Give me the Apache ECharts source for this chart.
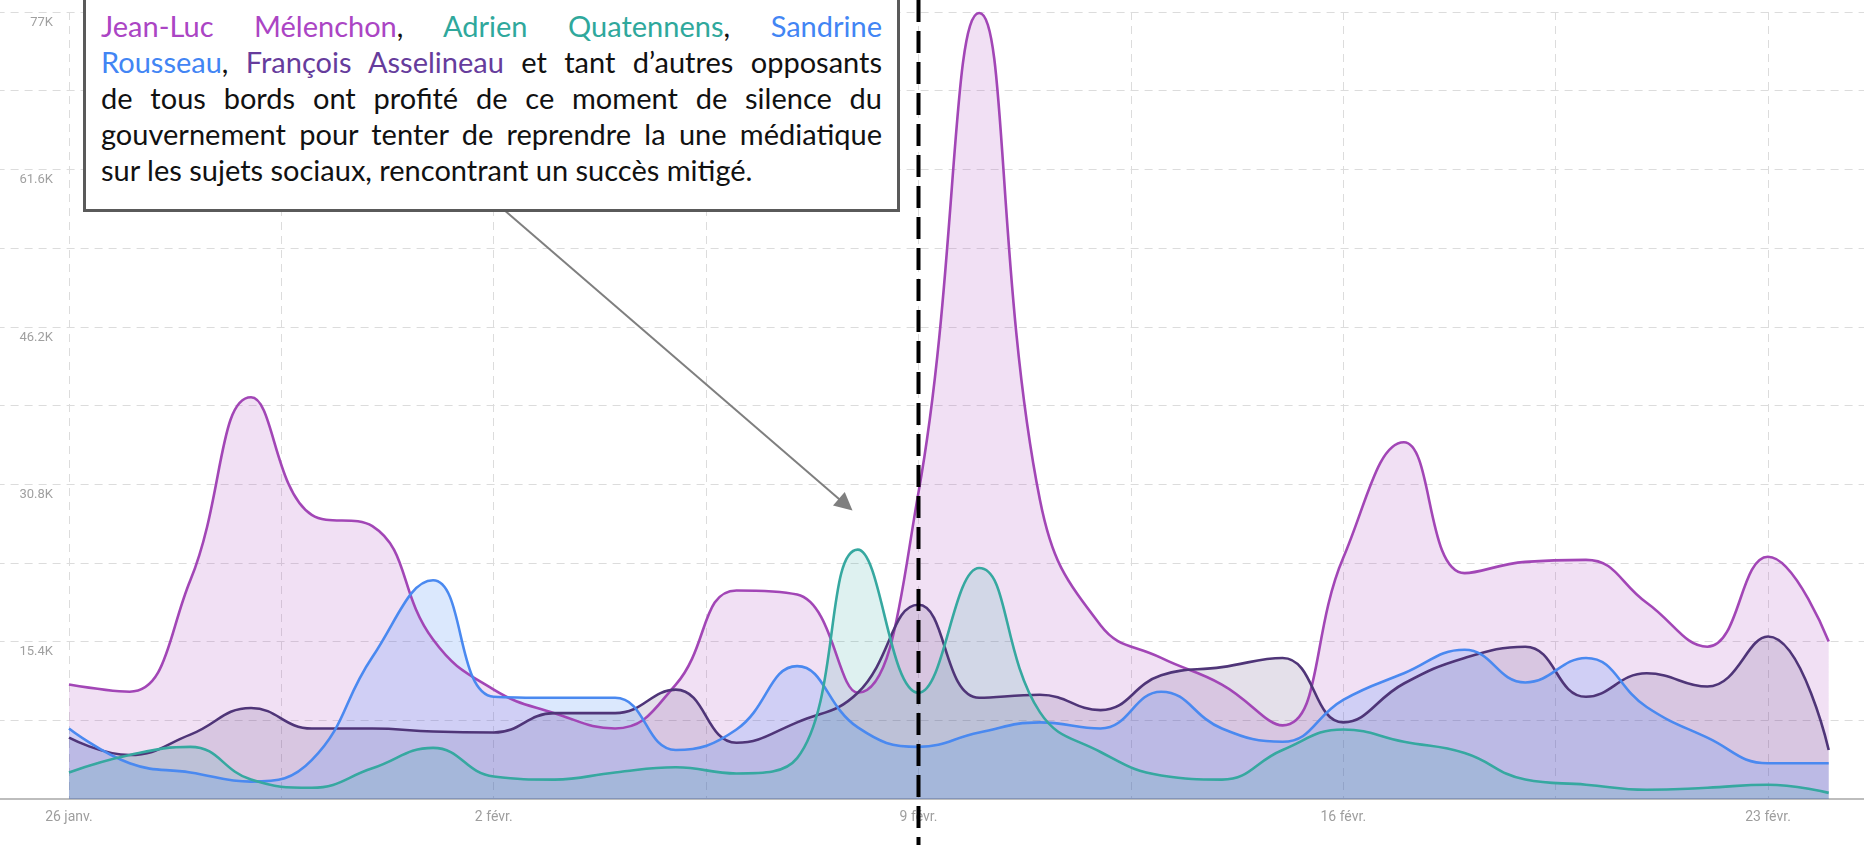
<!DOCTYPE html>
<html>
<head>
<meta charset="utf-8">
<script src="https://cdn.jsdelivr.net/npm/echarts@6.0.0/dist/echarts.min.js"></script>
<style>
  body { margin: 0; background: #fff; }
  #wrap { position: relative; width: 1864px; height: 845px; overflow: hidden; }
  #chart { width: 1864px; height: 845px; }
  #note {
    position: absolute; left: 83px; top: -3px; width: 817px; height: 215px;
    box-sizing: border-box; border: 3px solid #5a5a5a; background: #fff;
    padding: 8px 15px 0 15px;
    font-family: Lato, "Noto Sans", sans-serif; font-size: 29px; line-height: 36px; color: #111;
  }
  #note .l { text-align: justify; text-align-last: justify; }
  #note .last { text-align: left; }
  .m { color: #ab45c4; }
  .q { color: #2fa89c; }
  .r { color: #4285f4; }
  .a { color: #663c9c; }
</style>
</head>
<body>
<div id="wrap">
  <div id="chart"></div>
  <div id="note">
    <div class="l"><span class="m">Jean-Luc Mélenchon</span>, <span class="q">Adrien Quatennens</span>, <span class="r">Sandrine</span></div>
    <div class="l"><span class="r">Rousseau</span>, <span class="a">François Asselineau</span> et tant d’autres opposants</div>
    <div class="l">de tous bords ont profité de ce moment de silence du</div>
    <div class="l">gouvernement pour tenter de reprendre la une médiatique</div>
    <div class="last">sur les sujets sociaux, rencontrant un succès mitigé.</div>
  </div>
</div>
<script>
// jours affichés (26 janv. -> 24 févr.)
var days = ['26 janv.', '27 janv.', '28 janv.', '29 janv.', '30 janv.', '31 janv.',
  '1 févr.', '2 févr.', '3 févr.', '4 févr.', '5 févr.', '6 févr.', '7 févr.', '8 févr.',
  '9 févr.', '10 févr.', '11 févr.', '12 févr.', '13 févr.', '14 févr.', '15 févr.',
  '16 févr.', '17 févr.', '18 févr.', '19 févr.', '20 févr.', '21 févr.', '22 févr.',
  '23 févr.', '24 févr.'];

// mentions, en milliers
var melenchon = [11.2, 10.5, 21.4, 39.3, 27.8, 26.7, 15.6, 10.7, 8.4, 6.9,
  11.2, 20.4, 20.0, 10.4, 30.0, 76.9, 29.3, 17.0, 13.8, 11.2,
  7.2, 23.6, 34.9, 22.1, 23.2, 23.4, 19.2, 14.9, 23.7, 15.4];
var quatennens = [2.6, 4.3, 5.1, 1.9, 1.1, 3.0, 5.0, 2.2, 1.9, 2.6,
  3.1, 2.5, 4.0, 24.4, 10.4, 22.6, 8.5, 4.6, 2.3, 1.9,
  4.8, 6.8, 5.6, 4.5, 1.9, 1.4, 0.9, 1.1, 1.4, 0.6];
var rousseau = [6.9, 3.5, 2.6, 1.7, 3.8, 13.9, 21.4, 10.0, 9.9, 9.9,
  4.8, 6.8, 13.0, 7.0, 5.1, 6.5, 7.5, 6.9, 10.5, 6.9,
  5.6, 9.7, 12.3, 14.6, 11.4, 13.8, 9.0, 6.0, 3.5, 3.5];
var asselineau = [6.0, 4.3, 6.3, 8.9, 6.9, 6.9, 6.6, 6.5, 8.4, 8.4,
  10.7, 5.5, 7.5, 10.4, 19.0, 9.9, 10.2, 8.7, 12.1, 12.9,
  13.8, 7.5, 11.3, 13.8, 14.9, 10.0, 12.3, 11.0, 15.9, 4.8];

var markedDay = 14; // 9 févr.

function serie(name, vals, line, fill) {
  return {
    name: name,
    type: 'line',
    smooth: 0.45,
    symbol: 'none',
    clip: false,
    data: vals.map(function (v, i) { return [i, v * 1000]; }),
    lineStyle: { color: line, width: 2.6 },
    itemStyle: { color: line },
    areaStyle: { color: fill }
  };
}

var chart = echarts.init(document.getElementById('chart'));

var s1 = serie('Jean-Luc Mélenchon', melenchon, '#a246b6', 'rgba(171,71,188,0.24)');
// flèche de l'encadré
s1.markLine = {
  silent: true,
  symbol: ['none', 'triangle'],
  symbolSize: 18,
  label: { show: false },
  lineStyle: { color: '#7f7f7f', width: 2, type: 'solid' },
  data: [[{ coord: [7.1, 58000] }, { coord: [12.8, 28800] }]]
};

chart.setOption({
  animation: false,
  grid: { left: -143.4, width: 2123.8, top: 12, height: 787, containLabel: false, outerBoundsMode: 'none' },
  xAxis: {
    type: 'value',
    min: -3.5,
    max: 31.5,
    interval: 3.5,
    axisLine: { lineStyle: { color: '#bdbdbd', width: 2 } },
    axisTick: { show: false },
    splitLine: { show: true, lineStyle: { color: '#dcdcdc', type: [8, 6] } },
    axisLabel: {
      margin: 11,
      color: '#9e9e9e',
      fontSize: 14,
      fontFamily: 'Roboto',
      formatter: function (v) {
        var i = Math.round(v);
        if (Math.abs(v - i) > 1e-6 || i < 0 || i % 7 !== 0 || i >= days.length) return '';
        return days[i];
      }
    }
  },
  yAxis: {
    type: 'value',
    min: 0,
    max: 77000,
    interval: 7700,
    offset: -203.4,
    axisLine: { show: false },
    axisTick: { show: false },
    splitLine: { show: true, lineStyle: { color: '#dcdcdc', type: [8, 6] } },
    axisLabel: {
      margin: 7,
      color: '#a0a0a0',
      fontSize: 13,
      fontFamily: 'Roboto',
      verticalAlign: 'top',
      padding: [4, 0, 0, 0],
      formatter: function (v) {
        var k = Math.round(v / 100) / 10;
        if (k === 0 || Math.round(k * 10) % 154 !== 0) return '';
        return k + 'K';
      }
    }
  },
  series: [
    s1,
    serie('François Asselineau', asselineau, '#4f3578', 'rgba(80,50,120,0.22)'),
    serie('Sandrine Rousseau', rousseau, '#4a89f0', 'rgba(66,133,244,0.27)'),
    serie('Adrien Quatennens', quatennens, '#36a8a0', 'rgba(38,166,154,0.22)')
  ]
});

// ligne pointillée noire sur le 9 févr., sur toute la hauteur
var px = chart.convertToPixel({ xAxisIndex: 0 }, markedDay);
chart.setOption({
  graphic: [{
    type: 'line',
    z: 100,
    shape: { x1: px, y1: 0, x2: px, y2: 845 },
    style: { stroke: '#000', lineWidth: 4, lineDash: [22, 9] }
  }]
});
</script>
</body>
</html>
